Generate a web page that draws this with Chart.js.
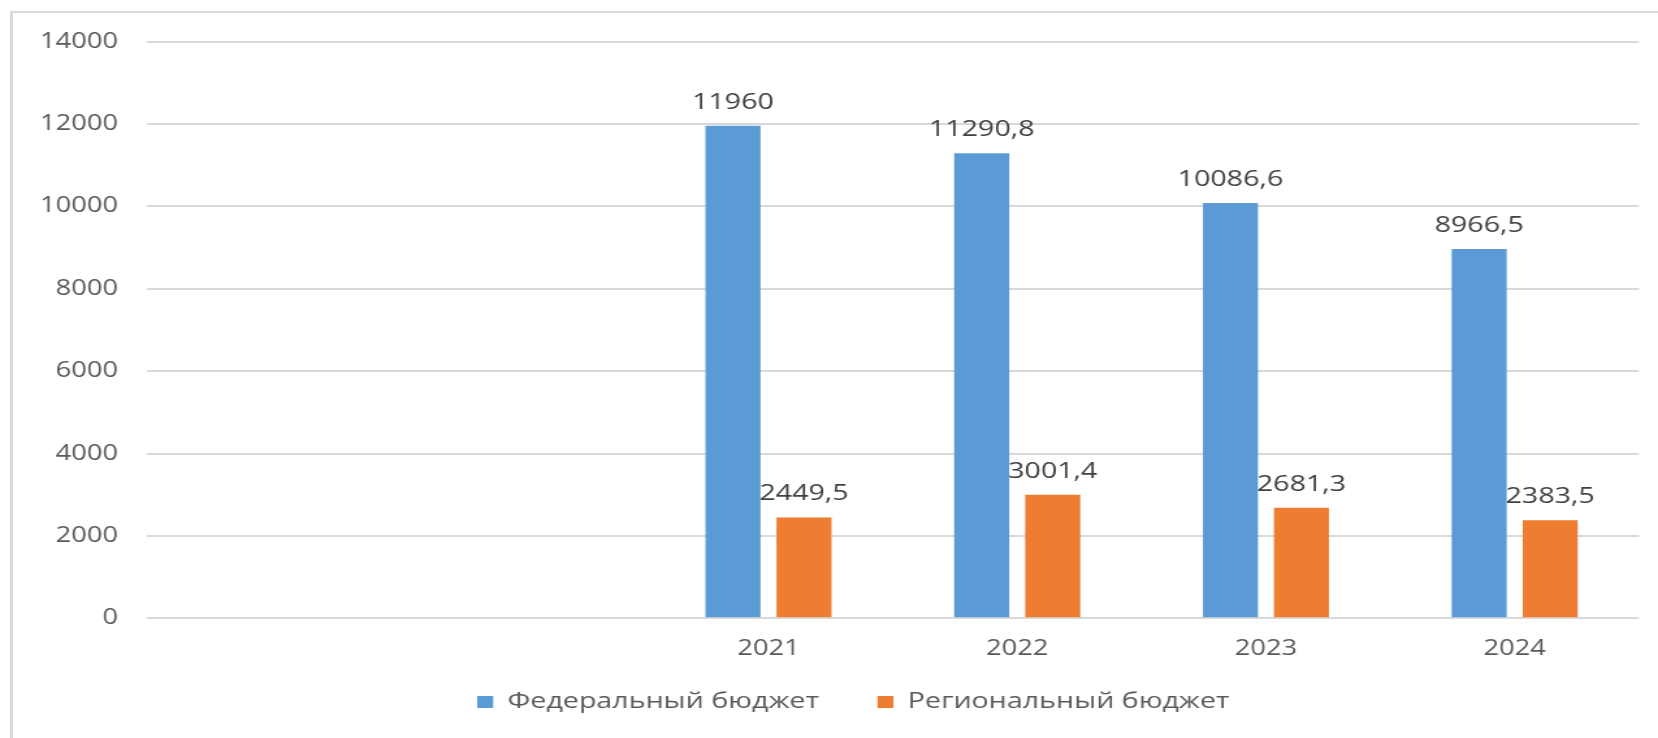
<!DOCTYPE html>
<html>
<head>
<meta charset="utf-8">
<script src="https://cdn.jsdelivr.net/npm/chart.js@4/dist/chart.umd.min.js"></script>
<style>
  html, body { margin: 0; padding: 0; background: #ffffff; overflow: hidden; }
  #frame { position: absolute; left: 10px; top: 11px; width: 1700px; height: 800px;
           border-left: 3px solid #dadada; border-top: 2px solid #dadada; }
  #c { position: absolute; left: 0; top: 0; width: 1658px; height: 738px; }
</style>
</head>
<body>
<div id="frame"></div>
<canvas id="c" width="1275" height="738" style="width:1658px;height:738px"></canvas>
<script>
// ---- data ----
const categories = ["", "", "2021", "2022", "2023", "2024"];
const federalBudget = [null, null, 11960, 11290.8, 10086.6, 8966.5];
const regionalBudget = [null, null, 2449.5, 3001.4, 2681.3, 2383.5];
const seriesNames = ["Федеральный бюджет", "Региональный бюджет"];
const yTicks = [0, 2000, 4000, 6000, 8000, 10000, 12000, 14000];

const FONT = "'Open Sans', 'DejaVu Sans', sans-serif";

const valueLabels = {
  id: 'valueLabels',
  afterDatasetsDraw(chart) {
    const ctx = chart.ctx;
    ctx.save();
    ctx.font = "22px " + FONT;
    ctx.fillStyle = '#404040';
    ctx.textAlign = 'center';
    ctx.textBaseline = 'alphabetic';
    chart.data.datasets.forEach((ds, di) => {
      const meta = chart.getDatasetMeta(di);
      meta.data.forEach((bar, i) => {
        const v = ds.data[i];
        if (v === null || v === undefined) return;
        const txt = String(v).replace('.', ',');
        ctx.fillText(txt, bar.x, bar.y - 17);
      });
    });
    ctx.restore();
  }
};

// nudge the legend block to its place in the reference
const legendNudge = {
  id: 'legendNudge',
  afterLayout(chart) {
    const lg = chart.legend;
    if (!lg) return;
    const dx = 26, dy = -15;
    lg.left += dx; lg.right += dx; lg.top += dy; lg.bottom += dy;
  }
};

new Chart(document.getElementById('c'), {
  type: 'bar',
  data: {
    labels: categories,
    datasets: [
      { label: seriesNames[0], data: federalBudget, backgroundColor: '#5B9BD5',
        categoryPercentage: 0.571, barPercentage: 0.775 },
      { label: seriesNames[1], data: regionalBudget, backgroundColor: '#ED7D31',
        categoryPercentage: 0.571, barPercentage: 0.775 }
    ]
  },
  options: {
    responsive: false,
    devicePixelRatio: 1,
    animation: false,
    layout: { padding: { top: 41.7, left: 0, right: 14.6, bottom: 0 } },
    plugins: {
      legend: {
        position: 'bottom',
        labels: {
          font: { family: FONT, size: 22 },
          color: '#595959',
          boxWidth: 12.3,
          boxHeight: 12,
          padding: 45
        }
      },
      tooltip: { enabled: false }
    },
    scales: {
      x: {
        grid: { display: false, drawTicks: false },
        border: { display: false },
        ticks: { font: { family: FONT, size: 21 }, color: '#595959', padding: 18 },
        afterFit(scale) { scale.height = 42.7; }
      },
      y: {
        min: 0, max: 14000,
        grid: { color: '#d9d9d9', lineWidth: 2, drawTicks: false },
        border: { display: false },
        ticks: { stepSize: 2000, font: { family: FONT, size: 21 }, color: '#595959', padding: 22,
                 callback: (v) => String(v) },
        afterBuildTicks(scale) { scale.ticks = yTicks.map(v => ({ value: v })); },
        afterFit(scale) { scale.width = 112.8; }
      }
    }
  },
  plugins: [valueLabels, legendNudge]
});
</script>
</body>
</html>
